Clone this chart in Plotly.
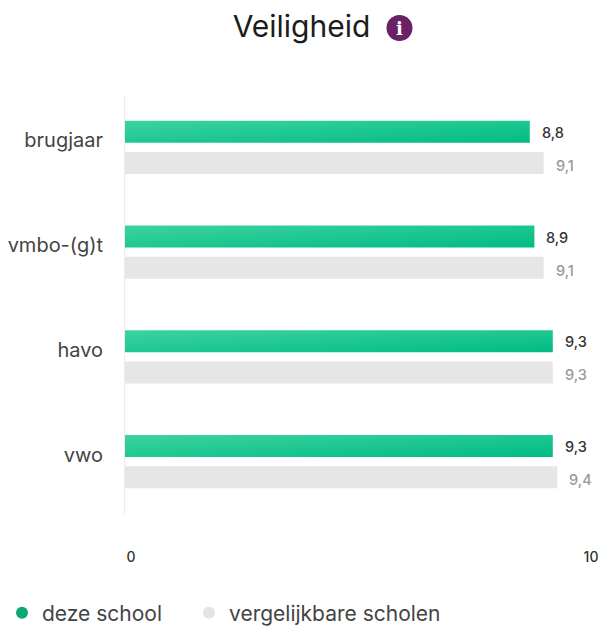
import plotly.graph_objects as go

categories = ["brugjaar", "vmbo-(g)t", "havo", "vwo"]
deze_school = [8.8, 8.9, 9.3, 9.3]
vergelijkbaar = [9.1, 9.1, 9.3, 9.4]
series_names = ["deze school", "vergelijkbare scholen"]
tick_values = [0, 10]
tick_labels = ["0", "10"]

W, H = 604, 628
L, R, T, B = 125, 19, 95, 114
PW, PH = W - L - R, H - T - B
FONT = "Inter, 'Open Sans', sans-serif"


def px(x):
    return (x - L) / PW


def py(y):
    return 1 - (y - T) / PH


def lab(v):
    return f"{v:.1f}".replace(".", ",")


fig = go.Figure()
fig.add_bar(y=categories, x=deze_school, orientation="h", name=series_names[0],
            marker=dict(color="#1ec792", line=dict(width=0)), showlegend=False)
fig.add_bar(y=categories, x=vergelijkbaar, orientation="h", name=series_names[1],
            marker=dict(color="#e6e6e6", line=dict(width=0)), showlegend=False)
for name, col, leg in zip(series_names, ["#0aa874", "#e4e4e4"], ["legend", "legend2"]):
    fig.add_scatter(x=[None], y=[None], mode="markers", name=name, legend=leg,
                    marker=dict(size=17, color=col, symbol="circle"))

value_notes = []
for cat, a, b in zip(categories, deze_school, vergelijkbaar):
    value_notes.append(dict(x=a, y=cat, text=lab(a), xanchor="left", yanchor="middle",
                            xshift=11, yshift=15, showarrow=False, borderpad=0,
                            font=dict(size=14.5, color="#333333", family=FONT, weight=500)))
    value_notes.append(dict(x=b, y=cat, text=lab(b), xanchor="left", yanchor="middle",
                            xshift=11, yshift=-18, showarrow=False, borderpad=0,
                            font=dict(size=14.5, color="#999999", family=FONT, weight=500)))

leg_common = dict(orientation="h", xanchor="left", y=py(613), yanchor="middle",
                  font=dict(size=21, color="#444444", family=FONT), itemsizing="constant",
                  bgcolor="rgba(0,0,0,0)")

fig.update_layout(
    width=W, height=H, autosize=False,
    margin=dict(l=L, r=R, t=T, b=B, pad=0, autoexpand=False),
    paper_bgcolor="white", plot_bgcolor="white",
    barmode="group", bargap=0.407, bargroupgap=0.29,
    font=dict(family=FONT, color="#333333"),
    showlegend=True,
    legend=dict(x=px(2), **leg_common),
    legend2=dict(x=px(189), **leg_common),
    title=dict(text="Veiligheid", x=px(301.5), xanchor="center", xref="paper",
               y=1 - 26 / H, yanchor="middle",
               font=dict(size=30, color="#1c1c1c", family=FONT)),
    shapes=[dict(type="circle", xref="paper", yref="paper",
                 x0=px(386.5), x1=px(412.5), y0=py(41), y1=py(15),
                 fillcolor="#6c2065", line=dict(width=0))],
    annotations=value_notes + [
        dict(text="<b>i</b>", xref="paper", yref="paper", x=px(399.5), y=py(28),
             xanchor="center", yanchor="middle", showarrow=False,
             font=dict(size=18, color="white", family="DejaVu Serif"))],
    xaxis=dict(range=[0, 10], tickvals=tick_values, ticktext=tick_labels, showgrid=False,
               zeroline=False, showline=False, ticks="", ticklabelstandoff=33,
               ticklabelshift=6, automargin=False,
               tickfont=dict(size=14, color="#333333", family=FONT, weight=500)),
    yaxis=dict(categoryorder="array", categoryarray=categories, range=[3.5, -0.5],
               showgrid=False, zeroline=False, showline=True, linecolor="#f1e9ed", linewidth=1,
               ticks="", ticklabelstandoff=17, ticklabelshift=7, automargin=False,
               tickfont=dict(size=20, color="#444444", family=FONT)),
)

post = """
document.body.style.margin = '0';
var gd = document.getElementById('{plot_id}');
var svg = gd.querySelector('svg.main-svg');
var ns = 'http://www.w3.org/2000/svg';
var defs = svg.querySelector('defs') || svg.insertBefore(document.createElementNS(ns,'defs'), svg.firstChild);
var g = document.createElementNS(ns,'linearGradient');
g.setAttribute('id','barGreen');
g.setAttribute('x1','0'); g.setAttribute('y1','0'); g.setAttribute('x2','1'); g.setAttribute('y2','1');
[['0','#3dd3a0'],['1','#00bb83']].forEach(function(s){
  var st = document.createElementNS(ns,'stop');
  st.setAttribute('offset',s[0]); st.setAttribute('stop-color',s[1]); g.appendChild(st);
});
defs.appendChild(g);
var tr = gd.querySelectorAll('.barlayer .trace')[0];
tr.querySelectorAll('.point path').forEach(function(p){ p.style.fill = 'url(#barGreen)'; });
"""
fig.write_html("out.html", post_script=post, config=dict(displayModeBar=False))
